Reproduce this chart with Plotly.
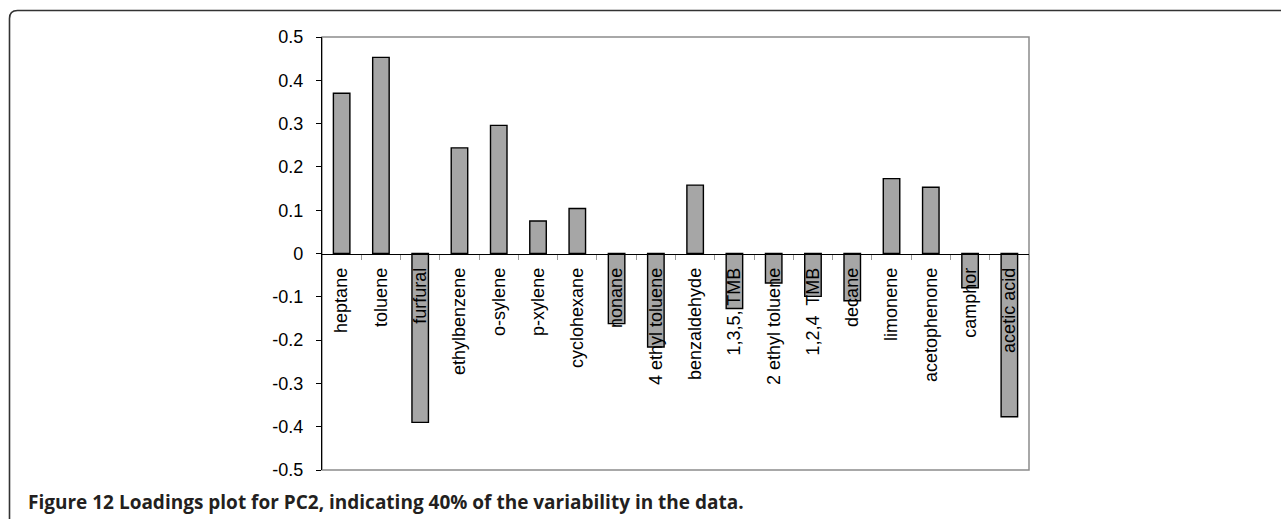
import plotly.graph_objects as go

# PC2 loadings per compound
compounds = [
    "heptane", "toluene", "furfural", "ethylbenzene", "o-sylene", "p-xylene",
    "cyclohexane", "nonane", "4 ethyl toluene", "benzaldehyde", "1,3,5, TMB",
    "2 ethyl toluene", "1,2,4\u00a0 TMB", "decane", "limonene", "acetophenone",
    "camphor", "acetic acid",
]
loadings = [
    0.370, 0.453, -0.390, 0.244, 0.296, 0.075,
    0.104, -0.162, -0.216, 0.158, -0.127,
    -0.068, -0.099, -0.109, 0.173, 0.153,
    -0.079, -0.377,
]
y_tickvals = [0.5, 0.4, 0.3, 0.2, 0.1, 0, -0.1, -0.2, -0.3, -0.4, -0.5]
y_ticktext = ["0.5", "0.4", "0.3", "0.2", "0.1", "0",
              "-0.1", "-0.2", "-0.3", "-0.4", "-0.5"]
caption = ("<b>Figure 12 Loadings plot for PC2, indicating 40% of the "
           "variability in the data.</b>")

W, H = 1281, 519
# plot area in pixels
L, R, T, B = 322, 1029, 37, 470


def px(x):
    return (x - L) / (R - L)


def py(y):
    return (B - y) / (B - T)


fig = go.Figure()
fig.add_trace(go.Bar(
    x=compounds, y=loadings,
    marker=dict(color="#a6a6a6", line=dict(color="#000000", width=1.4)),
))

# grey frame round the plot area
fig.add_shape(
    type="rect", xref="paper", yref="paper", x0=0, x1=1, y0=0, y1=1,
    line=dict(color="#8c8c8c", width=1.5), layer="below",
)

# page border with the rounded top-left corner
r = 8
path = (f"M {px(W + 5)},{py(10.5)} L {px(9.5 + r)},{py(10.5)} "
        f"Q {px(9.5)},{py(10.5)} {px(9.5)},{py(10.5 + r)} "
        f"L {px(9.5)},{py(H + 5)}")
fig.add_shape(type="path", xref="paper", yref="paper", path=path,
              line=dict(color="#333333", width=1.6))

fig.add_annotation(
    xref="paper", yref="paper", x=px(26), y=py(502),
    xanchor="left", yanchor="middle", showarrow=False,
    text=caption, font=dict(family="Open Sans", size=19, color="#231f20"),
)

fig.update_layout(
    width=W, height=H,
    margin=dict(l=L, r=W - R, t=T, b=H - B, pad=0),
    plot_bgcolor="white", paper_bgcolor="white",
    showlegend=False, bargap=0.58,
    font=dict(family="Liberation Sans, Arial", size=18, color="#000000"),
)
fig.update_xaxes(
    type="category", anchor="free", position=0.5,
    showline=True, linecolor="#000000", linewidth=1.3,
    ticks="outside", tickson="boundaries", ticklen=5, tickcolor="#9a9a9a",
    tickangle=-90, ticklabelstandoff=6, showgrid=False,
)
fig.update_yaxes(
    range=[-0.5, 0.5], tickvals=y_tickvals, ticktext=y_ticktext,
    showline=True, linecolor="#000000", linewidth=1.3,
    ticks="outside", ticklen=5, tickcolor="#000000",
    ticklabelstandoff=9, showgrid=False, zeroline=False,
)

# the page has a default 8px body margin; drop it so the figure sits at 0,0
fig.write_html("out.html", config={"displayModeBar": False},
               post_script="document.body.style.margin = '0';")
